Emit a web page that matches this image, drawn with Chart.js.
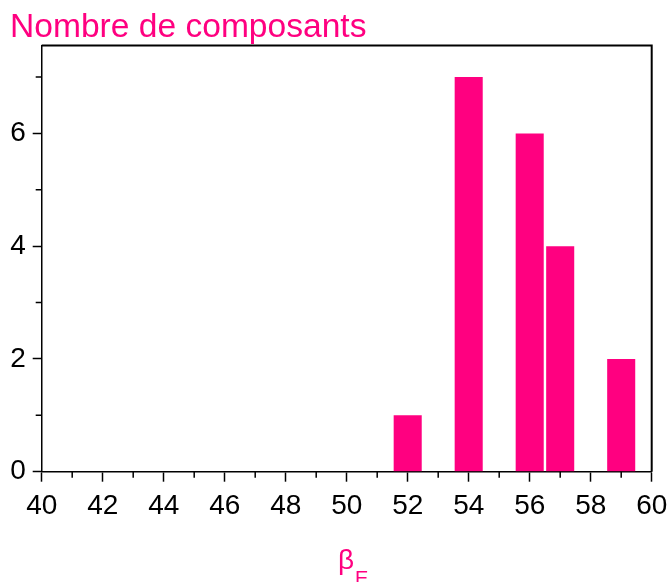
<!DOCTYPE html>
<html><head><meta charset="utf-8">
<script src="https://cdn.jsdelivr.net/npm/chart.js@4/dist/chart.umd.min.js"></script>
<style>html,body{margin:0;padding:0;background:#fff}#wrap{width:669px;height:582px}</style>
</head><body><div id="wrap"><canvas id="c" width="669" height="582"></canvas></div>
<script>
const categories = [52, 54, 56, 57, 59];
const counts = [1, 7, 6, 4, 2];
const xMajorTicks = [40, 42, 44, 46, 48, 50, 52, 54, 56, 58, 60];
const xMinorTicks = [41, 43, 45, 47, 49, 51, 53, 55, 57, 59];
const yMajorTicks = [0, 2, 4, 6];
const yMinorTicks = [1, 3, 5, 7];
const titleText = 'Nombre de composants';
const xLabelMain = 'β';
const xLabelSub = 'E';

const PINK = '#ff0080';
const FONT = '"Liberation Sans", Arial, sans-serif';

const decor = {
  id: 'decor',
  afterDraw(chart) {
    const ctx = chart.ctx, a = chart.chartArea;
    const xs = chart.scales.x, ys = chart.scales.y;
    ctx.save();
    ctx.strokeStyle = '#000';
    ctx.lineWidth = 1.5;
    ctx.beginPath();
    xMinorTicks.forEach(v => { const p = xs.getPixelForValue(v); ctx.moveTo(p, a.bottom); ctx.lineTo(p, a.bottom + 6); });
    yMinorTicks.forEach(v => { const p = ys.getPixelForValue(v); ctx.moveTo(a.left, p); ctx.lineTo(a.left - 6, p); });
    ctx.stroke();
    ctx.lineWidth = 2;
    ctx.beginPath();
    ctx.moveTo(a.left, a.top); ctx.lineTo(a.right, a.top); ctx.lineTo(a.right, a.bottom);
    ctx.stroke();
    ctx.fillStyle = PINK;
    ctx.textBaseline = 'alphabetic';
    ctx.textAlign = 'left';
    ctx.font = '33.6px ' + FONT;
    ctx.fillText(titleText, 10, 37);
    ctx.font = '28px ' + FONT;
    ctx.fillText(xLabelMain, 338, 569);
    ctx.font = '20px ' + FONT;
    ctx.fillText(xLabelSub, 355, 585);
    ctx.restore();
  }
};

new Chart(document.getElementById('c'), {
  type: 'bar',
  data: {
    datasets: [{
      data: categories.map((x, i) => ({ x: x, y: counts[i] })),
      backgroundColor: PINK,
      borderWidth: 0,
      categoryPercentage: 1,
      barPercentage: 0.92
    }]
  },
  options: {
    responsive: false,
    devicePixelRatio: 1,
    animation: false,
    layout: { padding: { top: 45.5, right: 17.3, left: 0, bottom: 0 } },
    plugins: { legend: { display: false }, tooltip: { enabled: false }, title: { display: false } },
    scales: {
      x: {
        type: 'linear', position: 'bottom', min: 40, max: 60, offset: false,
        afterBuildTicks: s => { s.ticks = xMajorTicks.map(v => ({ value: v })); },
        afterFit: s => { s.height = 110.3; s.paddingLeft = 0; s.paddingRight = 0; },
        ticks: { font: { size: 28, family: FONT }, color: '#000', padding: 8, maxRotation: 0, autoSkip: false },
        grid: { offset: false, drawOnChartArea: false, tickLength: 10, tickColor: '#000', tickWidth: 1.5 },
        border: { color: '#000', width: 1.5 }
      },
      y: {
        type: 'linear', position: 'left', min: 0, max: 7.56,
        afterBuildTicks: s => { s.ticks = yMajorTicks.map(v => ({ value: v })); },
        afterFit: s => { s.width = 41.7; s.paddingTop = 0; s.paddingBottom = 0; },
        ticks: { font: { size: 28, family: FONT }, color: '#000', padding: 7 },
        grid: { drawOnChartArea: false, tickLength: 9, tickColor: '#000', tickWidth: 1.5 },
        border: { color: '#000', width: 1.5 }
      }
    }
  },
  plugins: [decor]
});
</script>
</body></html>
